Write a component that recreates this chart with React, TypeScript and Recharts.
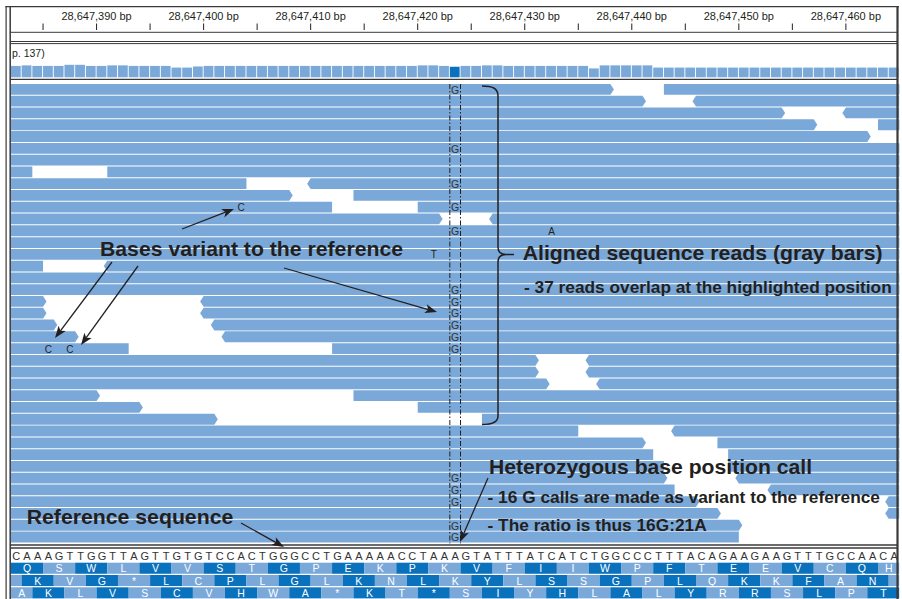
import React from "react";
import {
  Bar,
  ComposedChart,
  ReferenceDot,
  ReferenceLine,
  XAxis,
  YAxis,
} from "recharts";

// ---- data (positions are offsets from 28,647,380; base k spans [k, k+1)) ----
const BASE_ORIGIN = 28647380;
const FIRST_BASE = 2;

const rulerTicks = [5, 10, 15, 20, 25, 30, 35, 40, 45, 50, 55, 60, 65, 70, 75, 80];

const referenceSeq =
  "CAAAGTTGGTTAGTTGTGTCCACTGGGCCTGAAAAACCTAA" +
  "AGTATTTATCATCTGGCCCTTTACAGAAGAAGTTTGCCAACA";

// coverage depth per base, bases 2..84
const coverageDepth = [
  41, 43, 41, 41, 41, 45, 45, 41, 41, 43, 43, 41, 41, 41, 41, 35, 35, 39,
  41, 41, 41, 41, 41, 41, 41, 41, 41, 41, 41, 41, 41, 41, 41, 41, 41, 41, 41, 41,
  43, 43, 41, 38, 41, 41, 43, 43,
  41, 41, 41, 41, 41, 41, 41, 41, 32, 43, 43, 43, 43, 43,
  35, 35, 35, 35, 35, 35, 35, 35, 35, 35, 35, 35, 35, 35, 35, 35, 35, 35, 35, 35, 35, 35, 35,
];

const variantBase = 43;

// [row, start, end, strand]
const reads: [number, number, number, "f" | "r"][] = [
  [0, 0, 58, "f"], [0, 63, 90, "f"],
  [1, 0, 61, "f"], [1, 66, 90, "r"],
  [2, 0, 74, "f"], [2, 80, 90, "r"],
  [3, 0, 77, "f"], [3, 83, 90, "f"],
  [4, 0, 82, "f"],
  [5, 0, 90, "f"],
  [6, 0, 90, "f"],
  [7, 0, 4, "r"], [7, 11, 90, "f"],
  [8, 0, 24, "r"], [8, 30, 90, "r"],
  [9, 0, 28, "f"], [9, 34, 90, "f"],
  [10, 0, 32, "r"], [10, 40, 90, "f"],
  [11, 0, 42, "f"], [11, 47, 90, "r"],
  [12, 0, 90, "f"],
  [13, 0, 90, "f"],
  [14, 0, 90, "f"],
  [15, 0, 5, "r"], [15, 11, 90, "r"],
  [16, 0, 90, "f"],
  [17, 0, 90, "f"],
  [18, 0, 5, "f"], [18, 20, 90, "r"],
  [19, 0, 5, "f"], [19, 20, 90, "r"],
  [20, 0, 6, "f"], [20, 21, 90, "r"],
  [21, 0, 8, "f"], [21, 22, 90, "r"],
  [22, 0, 13, "r"], [22, 32, 90, "f"],
  [23, 0, 51, "f"], [23, 56, 90, "r"],
  [24, 0, 51, "f"], [24, 56, 90, "r"],
  [25, 0, 52, "f"], [25, 57, 90, "r"],
  [26, 0, 10, "f"], [26, 34, 90, "f"],
  [27, 0, 14, "f"], [27, 40, 90, "f"],
  [28, 0, 21, "f"], [28, 46, 90, "f"],
  [29, 0, 55, "r"], [29, 64, 90, "r"],
  [30, 0, 61, "f"], [30, 68, 90, "f"],
  [31, 0, 62, "r"], [31, 69, 90, "f"],
  [32, 0, 63, "r"], [32, 69, 90, "f"],
  [33, 0, 63, "f"], [33, 70, 90, "r"],
  [34, 0, 64, "r"], [34, 73, 90, "r"],
  [35, 0, 66, "f"], [35, 84, 90, "r"],
  [36, 0, 68, "f"], [36, 84, 90, "r"],
  [37, 0, 70, "f"],
  [38, 0, 70, "r"],
];

// rows carrying the G allele at the variant base
const gCallRows = [0, 5, 8, 10, 12, 17, 18, 19, 20, 21, 22, 33, 34, 35, 37, 38];

// other mismatches: [row, base, letter]
const mismatches: [number, number, string][] = [
  [10, 23, "C"],
  [12, 52, "A"],
  [14, 41, "T"],
  [22, 5, "C"],
  [22, 7, "C"],
];

// three-frame translation
const frameStarts = [2, 0, 1];
const frame1 = ["Q", "S", "W", "L", "V", "V", "S", "T", "G", "P", "E", "K", "P", "K",
  "V", "F", "I", "I", "W", "P", "F", "T", "E", "E", "V", "C", "Q", "H"];
const frame2 = ["", "K", "V", "G", "*", "L", "C", "P", "L", "G", "L", "K", "N", "L",
  "K", "Y", "L", "S", "S", "G", "P", "L", "Q", "K", "K", "F", "A", "N", ""];
const frame3 = ["A", "K", "L", "V", "S", "C", "V", "H", "W", "A", "*", "K", "T", "*",
  "S", "I", "Y", "H", "L", "A", "L", "Y", "R", "R", "S", "L", "P", "T"];

// ---- styling ----
const READ_BLUE = "#7aa9d9";
const DARK_BLUE = "#0a71bc";
const INK = "#231f20";
const FRAME = "#3a3a3a";
const FONT = "'Liberation Sans', Arial, Helvetica, sans-serif";
const X_DOMAIN: [number, number] = [2, 85];
const ML = 10.93;
const MR = 2.6;
const ARROW = 3.5;

// ---- derived tables ----
const coverageData = coverageDepth.map((depth, i) => ({
  base: FIRST_BASE + i,
  depth,
}));

const rowCount = Math.max(...reads.map((r) => r[0])) + 1;
const readRows = Array.from({ length: rowCount }, (_, row) => {
  const mine = reads.filter((r) => r[0] === row).sort((a, b) => a[1] - b[1]);
  const obj: Record<string, any> = { row, g0: 0, r0: 0, g1: 0, r1: 0 };
  let prev = 0;
  mine.forEach(([, start, end, strand], i) => {
    obj[`g${i}`] = start - prev;
    obj[`r${i}`] = end - start;
    obj[`s${i}`] = strand;
    prev = end;
  });
  return obj;
});

const frames = [frame1, frame2, frame3];
const evenDark = [true, false, false];
const maxCodons = Math.max(...frames.map((f) => f.length));
const codonKeys = Array.from({ length: maxCodons }, (_, i) => `c${i}`);
const frameRows = frames.map((aa, f) => {
  const obj: Record<string, any> = { frame: f, lead: frameStarts[f], aa, evenDark: evenDark[f] };
  codonKeys.forEach((k, i) => {
    obj[k] = i < aa.length ? 3 : 0;
  });
  return obj;
});

const seqTicks = referenceSeq.split("").map((_, i) => FIRST_BASE + i + 0.5);

// ---- shapes ----
function RulerTick(props: any) {
  const { x, payload } = props;
  const v = payload.value as number;
  return (
    <g>
      <line x1={x} x2={x} y1={23.5} y2={30} stroke={INK} strokeWidth={1} />
      {v % 10 === 0 && (
        <text x={x} y={20} textAnchor="middle" fontSize={11} fill={INK} fontFamily={FONT}>
          {`${(BASE_ORIGIN + v).toLocaleString("en-US")} bp`}
        </text>
      )}
    </g>
  );
}

function SeqTick(props: any) {
  const { x, payload } = props;
  const letter = referenceSeq[Math.round(payload.value - FIRST_BASE - 0.5)];
  return (
    <text x={x} y={12} textAnchor="middle" fontSize={11} fill="#333" fontFamily={FONT}>
      {letter}
    </text>
  );
}

function CoverageShape(props: any) {
  const { x, y, width, height, payload } = props;
  if (!height || height <= 0) return <g />;
  return (
    <rect
      x={x}
      y={y}
      width={width}
      height={height}
      fill={payload.base === variantBase ? DARK_BLUE : READ_BLUE}
    />
  );
}

function readShape(strandKey: string) {
  return (p: any) => {
    const { x, y, width, height, payload } = p;
    if (!width || width <= 0) return <g />;
    const x2 = x + width;
    const ym = y + height / 2;
    const y2 = y + height;
    const pts =
      payload[strandKey] === "r"
        ? `${x - ARROW},${ym} ${x},${y} ${x2},${y} ${x2},${y2} ${x},${y2}`
        : `${x},${y} ${x2},${y} ${x2 + ARROW},${ym} ${x2},${y2} ${x},${y2}`;
    return <polygon points={pts} fill={READ_BLUE} />;
  };
}

function codonShape(i: number) {
  return (p: any) => {
    const { x, y, width, height, payload } = p;
    if (!width || width <= 0) return <g />;
    const dark = (i % 2 === 0) === payload.evenDark;
    const letter = payload.aa[i] ?? "";
    return (
      <g>
        <rect x={x} y={y} width={width} height={height} fill={dark ? DARK_BLUE : READ_BLUE} />
        <text
          x={x + width / 2}
          y={y + height / 2 + 4.1}
          textAnchor="middle"
          fontSize={10.5}
          fill="#fff"
          fontFamily={FONT}
        >
          {letter}
        </text>
      </g>
    );
  };
}

function letterDot(letter: string, color: string, size: number) {
  return (p: any) => (
    <text
      x={p.cx}
      y={p.cy + size * 0.36}
      textAnchor="middle"
      fontSize={size}
      fill={color}
      fontFamily={FONT}
    >
      {letter}
    </text>
  );
}

// ---- tracks ----
function CoverageTrack() {
  return (
    <ComposedChart
      width={902}
      height={80}
      data={coverageData}
      margin={{ top: 44, left: ML, right: MR, bottom: 2.7 }}
    >
      <XAxis dataKey="base" type="category" hide />
      <YAxis hide domain={[0, 120]} />
      <Bar dataKey="depth" barSize={9.8} shape={CoverageShape} isAnimationActive={false} />
    </ComposedChart>
  );
}

// reads pile-up; its top axis doubles as the genomic ruler
function ReadsTrack() {
  return (
    <ComposedChart
      layout="vertical"
      width={902}
      height={546}
      data={readRows}
      margin={{ top: 0, left: ML, right: MR, bottom: 2.6 }}
    >
      <XAxis
        type="number"
        orientation="top"
        domain={X_DOMAIN}
        allowDataOverflow
        ticks={rulerTicks}
        interval={0}
        height={84}
        axisLine={false}
        tickLine={false}
        tick={(p: any) => <RulerTick {...p} />}
      />
      <YAxis type="category" dataKey="row" hide />
      <Bar dataKey="g0" stackId="reads" barSize={10.8} fill="none" isAnimationActive={false} />
      <Bar dataKey="r0" stackId="reads" barSize={10.8} shape={readShape("s0")} isAnimationActive={false} />
      <Bar dataKey="g1" stackId="reads" barSize={10.8} fill="none" isAnimationActive={false} />
      <Bar dataKey="r1" stackId="reads" barSize={10.8} shape={readShape("s1")} isAnimationActive={false} />
      <ReferenceLine x={variantBase} stroke={INK} strokeWidth={1} strokeDasharray="5 2 1.5 2" />
      <ReferenceLine x={variantBase + 1} stroke={INK} strokeWidth={1} strokeDasharray="5 2 1.5 2" />
      {gCallRows.map((row) => (
        <ReferenceDot
          key={`g${row}`}
          x={variantBase + 0.5}
          y={row}
          r={0}
          shape={letterDot("G", "#333", 10.5)}
        />
      ))}
      {mismatches.map(([row, base, letter]) => (
        <ReferenceDot
          key={`m${row}-${base}`}
          x={base + 0.5}
          y={row}
          r={0}
          shape={letterDot(letter, INK, 10)}
        />
      ))}
    </ComposedChart>
  );
}

function SequenceTrack() {
  return (
    <ComposedChart
      layout="vertical"
      width={902}
      height={51}
      data={frameRows}
      barCategoryGap={0}
      margin={{ top: 0, left: ML, right: MR, bottom: 0.4 }}
    >
      <XAxis
        type="number"
        orientation="top"
        domain={X_DOMAIN}
        allowDataOverflow
        ticks={seqTicks}
        interval={0}
        height={13.7}
        axisLine={false}
        tickLine={false}
        tick={(p: any) => <SeqTick {...p} />}
      />
      <YAxis type="category" dataKey="frame" hide />
      <Bar dataKey="lead" stackId="aa" barSize={12.4} fill="none" isAnimationActive={false} />
      {codonKeys.map((k, i) => (
        <Bar
          key={k}
          dataKey={k}
          stackId="aa"
          barSize={12.4}
          shape={codonShape(i)}
          isAnimationActive={false}
        />
      ))}
    </ComposedChart>
  );
}

// ---- annotation overlay ----
function Arrow({ x1, y1, x2, y2 }: { x1: number; y1: number; x2: number; y2: number }) {
  const len = Math.hypot(x2 - x1, y2 - y1);
  const ux = (x2 - x1) / len;
  const uy = (y2 - y1) / len;
  const hl = 12;
  const hw = 4.5;
  const notch = 3;
  const bx = x2 - ux * hl;
  const by = y2 - uy * hl;
  const nx = x2 - ux * (hl - notch);
  const ny = y2 - uy * (hl - notch);
  const pts = [
    [x2, y2],
    [bx - uy * hw, by + ux * hw],
    [nx, ny],
    [bx + uy * hw, by - ux * hw],
  ]
    .map((p) => p.join(","))
    .join(" ");
  return (
    <g>
      <line x1={x1} y1={y1} x2={nx} y2={ny} stroke={INK} strokeWidth={1.3} />
      <polygon points={pts} fill={INK} />
    </g>
  );
}

function Note({ x, y, size, len, children }: any) {
  return (
    <text
      x={x}
      y={y}
      fontSize={size}
      fontWeight="bold"
      fill={INK}
      fontFamily={FONT}
      textLength={len}
      lengthAdjust="spacingAndGlyphs"
    >
      {children}
    </text>
  );
}

function Overlay() {
  return (
    <svg
      width={902}
      height={599}
      style={{ position: "absolute", left: 0, top: 0, pointerEvents: "none" }}
    >
      {/* panel frame */}
      <g stroke={FRAME} fill="none">
        <line x1={6.1} x2={6.1} y1={6} y2={599} strokeWidth={1.2} />
        <line x1={10.2} x2={10.2} y1={6} y2={599} strokeWidth={1.5} />
        <line x1={897.5} x2={897.5} y1={6} y2={599} strokeWidth={2.2} />
        <line x1={5.5} x2={899} y1={6.7} y2={6.7} strokeWidth={1.3} />
        <line x1={10} x2={897} y1={32.3} y2={32.3} strokeWidth={1} />
        <line x1={10} x2={897} y1={41.5} y2={41.5} strokeWidth={1} />
        <line x1={10} x2={897} y1={43.6} y2={43.6} strokeWidth={1} />
        <line x1={10} x2={897} y1={79.4} y2={79.4} strokeWidth={1.4} />
        <line x1={10} x2={897} y1={545} y2={545} strokeWidth={1.3} />
        <line x1={10} x2={897} y1={548} y2={548} strokeWidth={1.3} />
      </g>
      <text x={12} y={56.5} fontSize={10.5} fill={INK} fontFamily={FONT}>
        p. 137)
      </text>

      {/* brace around the aligned reads */}
      <path
        d="M482,86 C492,86 498,88 498,96 L498,247 C498,252 501,254.5 506,254.5 L514,254.5 M506,254.5 C501,254.5 498,257 498,262 L498,416 C498,422 492,424.5 482,424.5"
        stroke={INK}
        strokeWidth={1.5}
        fill="none"
      />

      <Note x={100} y={256} size={21} len={303}>Bases variant to the reference</Note>
      <Note x={522.7} y={260} size={21} len={360}>Aligned sequence reads (gray bars)</Note>
      <Note x={524} y={293.3} size={17} len={367.7}>- 37 reads overlap at the highlighted position</Note>
      <Note x={489} y={474} size={21} len={323}>Heterozygous base position call</Note>
      <Note x={487.5} y={503.3} size={17} len={392.5}>- 16 G calls are made as variant to the reference</Note>
      <Note x={487.5} y={530.7} size={17} len={219.2}>- The ratio is thus 16G:21A</Note>
      <Note x={26.7} y={524} size={21} len={206.6}>Reference sequence</Note>

      <Arrow x1={182} y1={229} x2={234} y2={209} />
      <Arrow x1={112} y1={262} x2={55} y2={338} />
      <Arrow x1={138} y1={266} x2={81} y2={345} />
      <Arrow x1={284} y1={268} x2={437} y2={312} />
      <Arrow x1={488} y1={478} x2={460} y2={542} />
      <Arrow x1={241} y1={523} x2={284} y2={547} />
    </svg>
  );
}

export default function App() {
  return (
    <div
      style={{
        position: "absolute",
        left: 0,
        top: 0,
        width: 902,
        height: 599,
        background: "#fff",
        overflow: "hidden",
        fontFamily: FONT,
      }}
    >
      <div style={{ position: "absolute", left: 0, top: 0 }}>
        <CoverageTrack />
      </div>
      <div style={{ position: "absolute", left: 0, top: 0 }}>
        <ReadsTrack />
      </div>
      <div style={{ position: "absolute", left: 0, top: 548 }}>
        <SequenceTrack />
      </div>
      <Overlay />
    </div>
  );
}
